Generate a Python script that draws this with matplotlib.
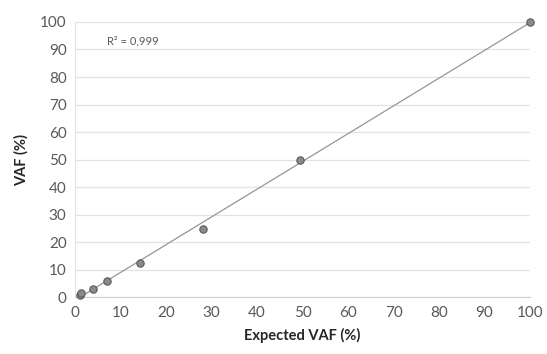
import numpy as np
import matplotlib.pyplot as plt

plt.rcParams['font.family'] = ['Lato', 'DejaVu Sans']

# expected vs measured VAF (%)
expected = [1.1, 1.3, 3.9, 7.0, 14.3, 28.1, 49.5, 100.0]
measured = [0.8, 1.6, 2.9, 5.9, 12.4, 24.8, 50.0, 100.0]
r2_text = 'R² = 0,999'

fig, ax = plt.subplots(figsize=(5.47, 3.54), dpi=100)
fig.subplots_adjust(left=0.137, right=0.969, top=0.938, bottom=0.16)

# linear trendline
coef = np.polyfit(expected, measured, 1)
xs = np.array([min(expected), max(expected)])
ax.plot(xs, np.polyval(coef, xs), color='#969696', lw=0.9, zorder=2, clip_on=False)

ax.scatter(expected, measured, s=28, color='#8a8a8a', edgecolor='#5a5a5a',
           linewidth=0.8, zorder=3, clip_on=False)

ax.set_xlim(0, 100)
ax.set_ylim(0, 100)
ax.set_xticks(np.arange(0, 101, 10))
ax.set_yticks(np.arange(0, 101, 10))
ax.grid(axis='y', color='#e3e3e3', lw=0.9)
ax.set_axisbelow(True)

for s in ['top', 'right']:
    ax.spines[s].set_visible(False)
ax.spines['left'].set_color('#e3e3e3')
ax.spines['bottom'].set_color('#d0d0d0')
ax.tick_params(length=0, labelsize=11, labelcolor='#595959', pad=6)

ax.set_xlabel('Expected VAF (%)', fontsize=10.5, fontweight='bold', color='#262626', labelpad=6)
ax.set_ylabel('VAF (%)', fontsize=10.5, fontweight='bold', color='#262626', labelpad=8)

ax.text(7, 93, r2_text, fontsize=8, color='#595959', va='center')

fig.savefig('out.png')
